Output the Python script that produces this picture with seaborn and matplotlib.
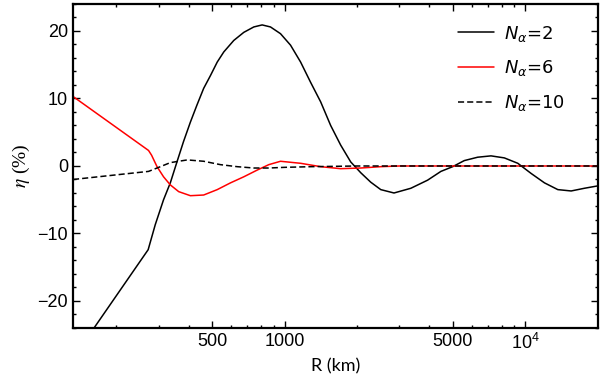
import matplotlib
matplotlib.use('Agg')
import matplotlib.pyplot as plt
import seaborn as sns
from matplotlib.ticker import FixedLocator, NullFormatter, MultipleLocator

# values
r_n2 = [132, 271, 290, 314, 335, 357, 380, 406, 432, 461, 492, 525, 559, 615, 677,
        745, 807, 874, 962, 1059, 1166, 1283, 1413, 1555, 1711, 1884, 2074, 2282,
        2512, 2851, 3350, 3933, 4467, 5000, 5587, 6350, 7215, 8197, 9325, 10590,
        12040, 13680, 15540, 17650, 20400]
eta_n2 = [-28.5, -12.4, -8.7, -5.0, -2.5, 0.6, 3.6, 6.5, 9.0, 11.5, 13.4, 15.4, 16.9,
          18.6, 19.8, 20.6, 20.9, 20.6, 19.6, 17.9, 15.4, 12.4, 9.5, 6.0, 3.1, 0.6,
          -1.0, -2.4, -3.5, -4.0, -3.3, -2.1, -0.8, -0.1, 0.8, 1.3, 1.5, 1.2, 0.4,
          -1.1, -2.5, -3.5, -3.7, -3.3, -2.9]

r_n6 = [132, 272, 280, 295, 314, 335, 363, 406, 461, 525, 596, 677, 770, 860, 962,
        1166, 1413, 1711, 2074, 2512, 3000, 5000, 10000, 20400]
eta_n6 = [10.3, 2.3, 1.6, -0.1, -1.6, -2.8, -3.8, -4.4, -4.3, -3.5, -2.5, -1.6, -0.6,
          0.2, 0.7, 0.4, -0.1, -0.4, -0.3, -0.1, 0.0, 0.0, 0.0, 0.0]

r_n10 = [132, 272, 295, 335, 394, 461, 541, 635, 745, 860, 1000, 1300, 2000, 10000, 20400]
eta_n10 = [-2.0, -0.8, -0.3, 0.5, 0.9, 0.7, 0.2, -0.1, -0.3, -0.3, -0.2, -0.1, 0.0, 0.0, 0.0]

labels = [r'$N_\alpha$=2', r'$N_\alpha$=6', r'$N_\alpha$=10']
xticks = [500, 1000, 5000, 10000]
xticklabels = ['500', '1000', '5000', r'$10^4$']
xminor = [200, 300, 400, 600, 700, 800, 900, 2000, 3000, 4000, 6000, 7000, 8000, 9000]

sns.set_style('ticks')
plt.rcParams['font.family'] = ['Liberation Sans', 'DejaVu Sans']
plt.rcParams['mathtext.fontset'] = 'custom'
plt.rcParams['mathtext.rm'] = 'Liberation Sans'
plt.rcParams['mathtext.it'] = 'Liberation Sans:italic'
plt.rcParams['text.color'] = 'black'
plt.rcParams['axes.labelcolor'] = 'black'
plt.rcParams['xtick.color'] = 'black'
plt.rcParams['ytick.color'] = 'black'
plt.rcParams['axes.edgecolor'] = 'black'

fig = plt.figure(figsize=(6, 3.92), dpi=100)
ax = fig.add_axes([0.1217, 0.1633, 0.875, 0.8265])

sns.lineplot(x=r_n2, y=eta_n2, ax=ax, color='black', lw=1.1, label=labels[0])
sns.lineplot(x=r_n6, y=eta_n6, ax=ax, color='red', lw=1.1, label=labels[1])
sns.lineplot(x=r_n10, y=eta_n10, ax=ax, color='black', lw=1.1, label=labels[2])
ax.lines[2].set_dashes([4, 2])

ax.set_xscale('log')
ax.set_xlim(132, 20100)
ax.set_ylim(-24, 24)

ax.xaxis.set_major_locator(FixedLocator(xticks))
ax.set_xticklabels(xticklabels)
ax.xaxis.set_minor_locator(FixedLocator(xminor))
ax.xaxis.set_minor_formatter(NullFormatter())
ax.yaxis.set_major_locator(MultipleLocator(10))
ax.yaxis.set_minor_locator(MultipleLocator(2))

ax.tick_params(which='both', direction='in', top=True, right=True, labelsize=13, width=1.0)
ax.tick_params(which='major', length=5)
ax.tick_params(which='minor', length=2.5)
for s in ax.spines.values():
    s.set_linewidth(1.6)

ax.set_xlabel('R (km)', fontsize=13, family='Lato')
ax.set_ylabel(r'$\eta$ (%)', fontsize=14, family='Liberation Serif', math_fontfamily='stix')

leg = ax.legend(loc='upper right', bbox_to_anchor=(0.95, 0.962), frameon=False,
                prop={'family': 'DejaVu Sans', 'size': 13}, handlelength=2.0,
                handletextpad=0.55, labelspacing=0.82, borderaxespad=0.0)
for t in leg.get_texts():
    t.set_math_fontfamily('dejavusans')

plt.savefig('out.png', dpi=100)
